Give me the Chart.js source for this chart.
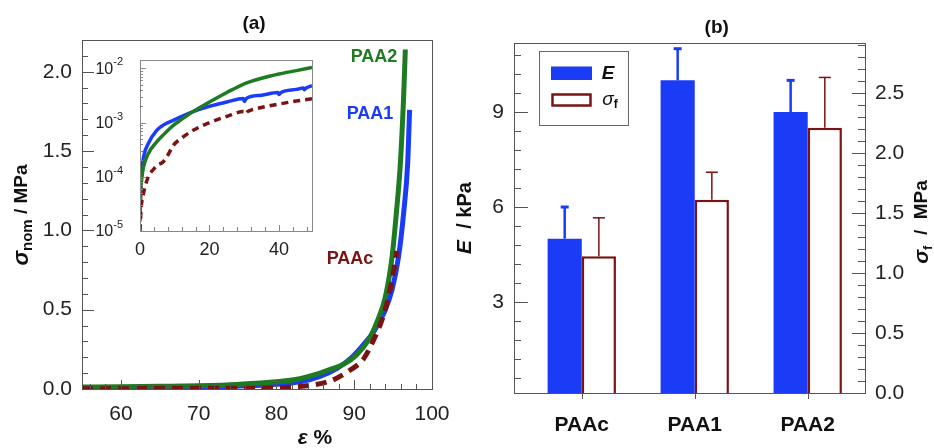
<!DOCTYPE html>
<html>
<head>
<meta charset="utf-8">
<script src="https://cdn.jsdelivr.net/npm/chart.js@4.4.1/dist/chart.umd.min.js"></script>
<style>
  body { margin: 0; background: #fff; }
  #wrap { position: relative; width: 934px; height: 448px; }
  .box { position: absolute; }
</style>
</head>
<body>
<div id="wrap">
  <div class="box" style="left:0;top:0;width:470px;height:448px"><canvas id="ca"></canvas></div>
  <div class="box" style="left:90px;top:50px;width:230px;height:210px"><canvas id="ci"></canvas></div>
  <div class="box" style="left:450px;top:0;width:484px;height:448px"><canvas id="cb"></canvas></div>
</div>
<script>
// ---- panel (a): nominal stress vs strain ----
var paa2Eps = [55, 60, 65, 70, 75, 80, 83, 85.6, 87, 88.6, 90.3, 91.85, 92.9, 94.0, 94.86, 95.4, 95.93, 96.35, 96.57];
var paa2Sig = [0.012, 0.014, 0.017, 0.021, 0.029, 0.045, 0.065, 0.1, 0.125, 0.155, 0.215, 0.31, 0.42, 0.58, 0.83, 1.1, 1.42, 1.84, 2.14];
var paa1Eps = [55, 60, 65, 70, 75, 80, 83, 85.6, 87.8, 89.7, 91.2, 92.5, 93.8, 94.86, 95.7, 96.35, 96.87, 97.12];
var paa1Sig = [0.006, 0.007, 0.009, 0.012, 0.018, 0.03, 0.045, 0.08, 0.13, 0.2, 0.28, 0.36, 0.477, 0.624, 0.834, 1.108, 1.42, 1.76];
var paacEps = [55, 60, 65, 70, 75, 80, 82, 84.6, 86.9, 88, 89.5, 91.2, 92.5, 93.6, 94.4, 95.1, 95.5];
var paacSig = [0.002, 0.002, 0.003, 0.004, 0.005, 0.006, 0.012, 0.025, 0.05, 0.075, 0.12, 0.19, 0.31, 0.44, 0.58, 0.75, 0.87];
var epsTicks = [60, 70, 80, 90, 100];
var sigTicks = [0, 0.5, 1.0, 1.5, 2.0];

// inset (log scale)
var paa2InEps = [0, 0.2, 0.5, 1, 2.4, 4.8, 7, 9.6, 12, 15.3, 20, 25, 30, 35, 40, 45, 49.5];
var paa2InSig = [1.5e-5, 5e-5, 9e-5, 1.5e-4, 2.7e-4, 4.4e-4, 6.2e-4, 8.9e-4, 1.15e-3, 1.6e-3, 2.4e-3, 3.6e-3, 5.2e-3, 6.6e-3, 7.9e-3, 9.1e-3, 1.04e-2];
var paa1InEps = [0, 0.2, 0.5, 1, 2.4, 4.8, 7, 9.6, 12, 15.3, 20, 25, 29.7, 30, 30.6, 35, 39.7, 40, 40.6, 45, 47, 47.3, 47.8, 49.5];
var paa1InSig = [2e-5, 5.6e-5, 1.2e-4, 2.3e-4, 4.1e-4, 7.2e-4, 9.2e-4, 1.1e-3, 1.3e-3, 1.6e-3, 2.0e-3, 2.4e-3, 2.8e-3, 2.45e-3, 2.8e-3, 3.2e-3, 3.6e-3, 3.3e-3, 3.6e-3, 4.1e-3, 4.35e-3, 4.05e-3, 4.35e-3, 4.8e-3];
var paacInEps = [0, 0.3, 1, 2.4, 4, 4.8, 6.7, 8, 9.6, 12, 15.3, 20, 25, 29.8, 30.2, 31, 35, 40, 45, 49.5];
var paacInSig = [1e-5, 2.5e-5, 4.9e-5, 1e-4, 1.4e-4, 1.6e-4, 1.9e-4, 2.5e-4, 3.8e-4, 5.2e-4, 7.2e-4, 1.0e-3, 1.3e-3, 1.6e-3, 1.45e-3, 1.6e-3, 1.9e-3, 2.2e-3, 2.5e-3, 2.75e-3];
var insetXTicks = [0, 20, 40];
var insetDecades = [1e-5, 1e-4, 1e-3, 1e-2];
var decadeExp = ['-5', '-4', '-3', '-2'];

// ---- panel (b): modulus and fracture stress ----
var samples = ['PAAc', 'PAA1', 'PAA2'];
var samplePos = [1, 2, 3];
var eVals = [5.0, 10.0, 9.0];
var eErr = [1.0, 1.0, 1.0];
var sfVals = [1.14, 1.61, 2.21];
var sfErr = [0.32, 0.23, 0.42];
var eTicks = [3, 6, 9];
var sfTicks = [0, 0.5, 1.0, 1.5, 2.0, 2.5];

var BLUE = '#1a3cf6';
var GREEN = '#1e7b22';
var RED = '#7a1414';
var FONT = '"Liberation Sans", Arial, sans-serif';
var FRAME = '#555';

function zip(xs, ys) {
  return xs.map(function (x, i) { return {x: x, y: ys[i]}; });
}

function rich(ctx, x, y, parts, rot) {
  ctx.save();
  ctx.translate(x, y);
  if (rot) ctx.rotate(rot);
  var w = 0;
  parts.forEach(function (p) { ctx.font = p.f; p.w = ctx.measureText(p.t).width; w += p.w; });
  var cx = -w / 2;
  ctx.textBaseline = 'middle';
  ctx.textAlign = 'left';
  parts.forEach(function (p) {
    ctx.font = p.f;
    ctx.fillStyle = p.c || '#111';
    ctx.fillText(p.t, cx, p.dy || 0);
    cx += p.w;
  });
  ctx.restore();
}

function tickMarks(ctx, scale, vals, len, edge, dir) {
  ctx.beginPath();
  vals.forEach(function (v) {
    var p = Math.round(scale.getPixelForValue(v)) + 0.5;
    if (scale.isHorizontal()) { ctx.moveTo(p, edge); ctx.lineTo(p, edge + dir * len); }
    else { ctx.moveTo(edge, p); ctx.lineTo(edge + dir * len, p); }
  });
  ctx.stroke();
}

function frame(ctx, a, color) {
  ctx.save();
  ctx.strokeStyle = color;
  ctx.lineWidth = 1;
  ctx.strokeRect(Math.round(a.left) + 0.5, Math.round(a.top) + 0.5,
    Math.round(a.right - a.left), Math.round(a.bottom - a.top));
  ctx.restore();
}

function steps(from, to, step, skip) {
  var out = [];
  for (var v = from; v <= to + 1e-9; v += step) {
    var r = Math.round(v * 1000) / 1000;
    if (!skip || skip.indexOf(r) < 0) out.push(r);
  }
  return out;
}

function fixAxis(size) {
  return function (s) {
    if (s.isHorizontal()) s.height = size; else s.width = size;
    s.paddingLeft = 0; s.paddingRight = 0; s.paddingTop = 0; s.paddingBottom = 0;
  };
}

// ---------- chart (a) ----------
var decorA = {
  id: 'decorA',
  afterDraw: function (chart) {
    var ctx = chart.ctx, a = chart.chartArea;
    var xs = chart.scales.x, ys = chart.scales.y;
    frame(ctx, a, FRAME);
    ctx.save();
    ctx.strokeStyle = FRAME;
    ctx.lineWidth = 1;
    tickMarks(ctx, xs, [60, 70, 80, 90], 9, a.bottom, -1);
    tickMarks(ctx, xs, steps(56, 98, 2, [60, 70, 80, 90]), 5, a.bottom, -1);
    tickMarks(ctx, ys, [0.5, 1.0, 1.5, 2.0], 12, a.left, 1);
    tickMarks(ctx, ys, steps(0.1, 2.1, 0.1, [0.5, 1, 1.5, 2]), 6, a.left, 1);
    ctx.restore();
    rich(ctx, 254, 24, [{t: '(a)', f: 'bold 19px ' + FONT}]);
    rich(ctx, 315, 438, [{t: 'ε', f: 'italic bold 21px ' + FONT}, {t: ' %', f: 'bold 21px ' + FONT}]);
    rich(ctx, 22, 215, [
      {t: 'σ', f: 'italic bold 22px ' + FONT},
      {t: 'nom', f: 'bold 15px ' + FONT, dy: 6},
      {t: ' / MPa', f: 'bold 19px ' + FONT}
    ], -Math.PI / 2);
    rich(ctx, 374, 57, [{t: 'PAA2', f: 'bold 18px ' + FONT, c: GREEN}]);
    rich(ctx, 370, 114, [{t: 'PAA1', f: 'bold 18px ' + FONT, c: BLUE}]);
    rich(ctx, 350, 259, [{t: 'PAAc', f: 'bold 18px ' + FONT, c: RED}]);
  }
};

new Chart(document.getElementById('ca'), {
  type: 'line',
  data: {
    datasets: [
      {label: 'PAAc', data: zip(paacEps, paacSig), borderColor: RED, borderWidth: 5, borderDash: [11, 7],
        pointRadius: 0, cubicInterpolationMode: 'monotone'},
      {label: 'PAA2', data: zip(paa2Eps, paa2Sig), borderColor: GREEN, borderWidth: 5,
        pointRadius: 0, cubicInterpolationMode: 'monotone'},
      {label: 'PAA1', data: zip(paa1Eps, paa1Sig), borderColor: BLUE, borderWidth: 5,
        pointRadius: 0, cubicInterpolationMode: 'monotone'}
    ]
  },
  options: {
    responsive: true, maintainAspectRatio: false, animation: false,
    layout: {padding: {left: 0, top: 40, right: 38, bottom: 0}},
    plugins: {legend: {display: false}, tooltip: {enabled: false}},
    scales: {
      x: {
        type: 'linear', min: 55, max: 100,
        grid: {display: false, drawTicks: false}, border: {display: false},
        ticks: {font: {family: FONT, size: 21}, color: '#222', padding: 13, maxRotation: 0},
        afterBuildTicks: function (s) { s.ticks = epsTicks.map(function (v) { return {value: v}; }); },
        afterFit: fixAxis(59)
      },
      y: {
        min: 0, max: 2.2,
        grid: {display: false, drawTicks: false}, border: {display: false},
        ticks: {font: {family: FONT, size: 21}, color: '#222', padding: 10,
          callback: function (v) { return v.toFixed(1); }},
        afterBuildTicks: function (s) { s.ticks = sigTicks.map(function (v) { return {value: v}; }); },
        afterFit: fixAxis(82)
      }
    }
  },
  plugins: [decorA]
});

// ---------- inset ----------
var decorI = {
  id: 'decorI',
  afterDraw: function (chart) {
    var ctx = chart.ctx, a = chart.chartArea;
    var xs = chart.scales.x, ys = chart.scales.y;
    frame(ctx, a, '#888');
    ctx.save();
    ctx.strokeStyle = '#888';
    ctx.lineWidth = 1;
    tickMarks(ctx, xs, [20, 40], 6, a.bottom, -1);
    tickMarks(ctx, xs, steps(4, 48, 4, [20, 40]), 4, a.bottom, -1);
    tickMarks(ctx, ys, insetDecades, 6, a.left, 1);
    var minors = [];
    insetDecades.forEach(function (d) {
      for (var m = 2; m <= 9; m++) if (m * d < ys.max) minors.push(m * d);
    });
    tickMarks(ctx, ys, minors, 3, a.left, 1);
    ctx.restore();
    ctx.save();
    ctx.fillStyle = '#222';
    ctx.textAlign = 'right';
    ctx.textBaseline = 'middle';
    insetDecades.forEach(function (d, i) {
      var py = ys.getPixelForValue(d);
      var xEnd = 33;
      ctx.font = '11px ' + FONT;
      var sw = ctx.measureText(decadeExp[i]).width;
      ctx.fillText(decadeExp[i], xEnd, py - 6);
      ctx.font = '16px ' + FONT;
      ctx.fillText('10', xEnd - sw, py + 1);
    });
    ctx.restore();
  }
};

new Chart(document.getElementById('ci'), {
  type: 'line',
  data: {
    datasets: [
      {label: 'PAAc', data: zip(paacInEps, paacInSig), borderColor: RED, borderWidth: 3.5, borderDash: [7, 5],
        pointRadius: 0, cubicInterpolationMode: 'monotone'},
      {label: 'PAA2', data: zip(paa2InEps, paa2InSig), borderColor: GREEN, borderWidth: 3.5,
        pointRadius: 0, cubicInterpolationMode: 'monotone'},
      {label: 'PAA1', data: zip(paa1InEps, paa1InSig), borderColor: BLUE, borderWidth: 3.5,
        pointRadius: 0, cubicInterpolationMode: 'monotone'}
    ]
  },
  options: {
    responsive: true, maintainAspectRatio: false, animation: false,
    layout: {padding: {left: 0, top: 10, right: 8, bottom: 0}},
    plugins: {legend: {display: false}, tooltip: {enabled: false}},
    scales: {
      x: {
        type: 'linear', min: 0, max: 49.5,
        grid: {display: false, drawTicks: false}, border: {display: false},
        ticks: {font: {family: FONT, size: 18}, color: '#222', padding: 8, maxRotation: 0},
        afterBuildTicks: function (s) { s.ticks = insetXTicks.map(function (v) { return {value: v}; }); },
        afterFit: fixAxis(29)
      },
      y: {
        type: 'logarithmic', min: 1e-5, max: 0.0143,
        grid: {display: false, drawTicks: false}, border: {display: false},
        ticks: {display: false},
        afterFit: fixAxis(50)
      }
    }
  },
  plugins: [decorI]
});

// ---------- chart (b) ----------
var decorB = {
  id: 'decorB',
  afterDatasetsDraw: function (chart) {
    var ctx = chart.ctx;
    var specs = [
      {ds: 0, vals: eVals, err: eErr, axis: 'y', color: BLUE, lw: 2.5, cap: 8, capW: 3},
      {ds: 1, vals: sfVals, err: sfErr, axis: 'y2', color: RED, lw: 1.5, cap: 12, capW: 1.5}
    ];
    ctx.save();
    specs.forEach(function (s) {
      var sc = chart.scales[s.axis];
      chart.getDatasetMeta(s.ds).data.forEach(function (bar, k) {
        var x = bar.x;
        var y0 = sc.getPixelForValue(s.vals[k]);
        var y1 = sc.getPixelForValue(s.vals[k] + s.err[k]);
        ctx.strokeStyle = s.color;
        ctx.lineWidth = s.lw;
        ctx.beginPath(); ctx.moveTo(x, y0); ctx.lineTo(x, y1); ctx.stroke();
        ctx.lineWidth = s.capW;
        ctx.beginPath(); ctx.moveTo(x - s.cap / 2, y1); ctx.lineTo(x + s.cap / 2, y1); ctx.stroke();
      });
    });
    ctx.restore();
  },
  afterDraw: function (chart) {
    var ctx = chart.ctx, a = chart.chartArea;
    var xs = chart.scales.x, ys = chart.scales.y, ys2 = chart.scales.y2;
    frame(ctx, a, FRAME);
    ctx.save();
    ctx.strokeStyle = FRAME;
    ctx.lineWidth = 1;
    tickMarks(ctx, xs, samplePos, 6, a.bottom, 1);
    tickMarks(ctx, ys, eTicks, 14, a.left, 1);
    tickMarks(ctx, ys, steps(0.6, 10.8, 0.6, [3, 6, 9]), 7, a.left, 1);
    tickMarks(ctx, ys2, [0.5, 1.0, 1.5, 2.0, 2.5], 13, a.right, -1);
    tickMarks(ctx, ys2, steps(0.1, 2.9, 0.1, [0.5, 1, 1.5, 2, 2.5]), 7, a.right, -1);
    ctx.restore();

    // legend
    var ox = -450;
    ctx.save();
    ctx.strokeStyle = '#666';
    ctx.lineWidth = 1;
    ctx.strokeRect(539.5 + ox, 51.5, 89, 74);
    ctx.fillStyle = BLUE;
    ctx.fillRect(551 + ox, 66.5, 41, 13.5);
    ctx.fillStyle = '#fff';
    ctx.strokeStyle = RED;
    ctx.lineWidth = 2.5;
    ctx.strokeRect(552.5 + ox, 94.5, 38, 11);
    ctx.restore();
    rich(ctx, 608 + ox, 74, [{t: 'E', f: 'italic bold 19px ' + FONT}]);
    rich(ctx, 610 + ox, 100, [
      {t: 'σ', f: 'italic 19px ' + FONT},
      {t: 'f', f: 'bold 12px ' + FONT, dy: 5}
    ]);

    rich(ctx, 716.7 + ox, 28, [{t: '(b)', f: 'bold 19px ' + FONT}]);
    rich(ctx, 465 + ox, 218, [
      {t: 'E', f: 'italic bold 21px ' + FONT},
      {t: '  / kPa', f: 'bold 20px ' + FONT}
    ], -Math.PI / 2);
    rich(ctx, 922 + ox, 222, [
      {t: 'σ', f: 'italic bold 21px ' + FONT},
      {t: 'f', f: 'bold 13px ' + FONT, dy: 6},
      {t: '  /  MPa', f: 'bold 19px ' + FONT}
    ], -Math.PI / 2);
  }
};

new Chart(document.getElementById('cb'), {
  type: 'bar',
  data: {
    datasets: [
      {label: 'E', data: zip(samplePos, eVals), yAxisID: 'y', backgroundColor: BLUE, borderWidth: 0,
        barPercentage: 1, categoryPercentage: 0.605, clip: 0},
      {label: 'σf', data: zip(samplePos, sfVals), yAxisID: 'y2', backgroundColor: '#fff', borderColor: RED,
        borderWidth: 2.5, barPercentage: 1, categoryPercentage: 0.605, clip: 0}
    ]
  },
  options: {
    responsive: true, maintainAspectRatio: false, animation: false,
    layout: {padding: {left: 0, top: 43, right: 0, bottom: 0}},
    plugins: {legend: {display: false}, tooltip: {enabled: false}},
    scales: {
      x: {
        type: 'linear', min: 0.40, max: 3.507, offset: false,
        grid: {display: false, drawTicks: false, offset: false}, border: {display: false},
        ticks: {font: {family: FONT, size: 21, weight: 'bold'}, color: '#111', padding: 20, maxRotation: 0,
          callback: function (v) { return samples[v - 1] || ''; }},
        afterBuildTicks: function (s) { s.ticks = samplePos.map(function (v) { return {value: v}; }); },
        afterFit: fixAxis(55)
      },
      y: {
        position: 'left', min: 0.126, max: 11.18,
        grid: {display: false, drawTicks: false}, border: {display: false},
        ticks: {font: {family: FONT, size: 21}, color: '#222', padding: 10},
        afterBuildTicks: function (s) { s.ticks = eTicks.map(function (v) { return {value: v}; }); },
        afterFit: fixAxis(64)
      },
      y2: {
        position: 'right', min: 0, max: 2.917,
        grid: {display: false, drawTicks: false}, border: {display: false},
        ticks: {font: {family: FONT, size: 21}, color: '#222', padding: 10,
          callback: function (v) { return v.toFixed(1); }},
        afterBuildTicks: function (s) { s.ticks = sfTicks.map(function (v) { return {value: v}; }); },
        afterFit: fixAxis(69)
      }
    }
  },
  plugins: [decorB]
});
</script>
</body>
</html>
